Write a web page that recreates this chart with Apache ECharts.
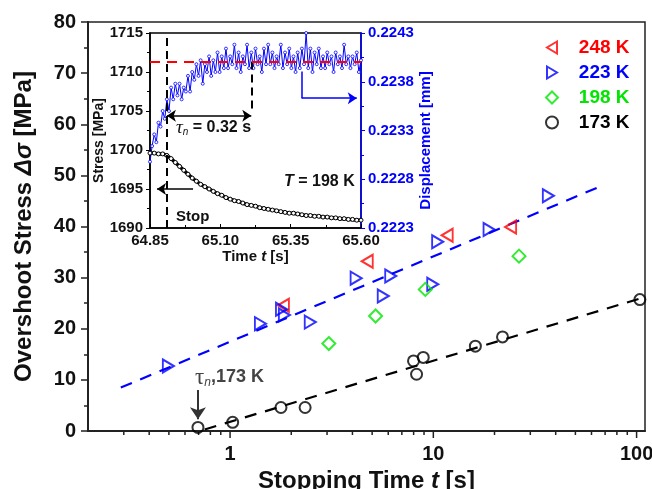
<!DOCTYPE html>
<html><head><meta charset="utf-8">
<script src="https://cdn.jsdelivr.net/npm/echarts@6/dist/echarts.min.js"></script>
<style>html,body{margin:0;padding:0;background:#fff}#c{width:652px;height:489px}</style>
</head><body><div id="c"></div>
<script>
// ---------- main chart data ----------
const t248 = [1.83, 4.73, 11.7, 24.0];
const s248 = [24.6, 33.2, 38.3, 39.9];
const t223 = [0.497, 1.41, 1.79, 1.85, 2.48, 4.17, 5.67, 6.17, 9.93, 10.5, 18.8, 36.8];
const s223 = [12.7, 21.0, 23.8, 22.7, 21.3, 29.9, 26.4, 30.3, 28.7, 37.0, 39.4, 46.0];
const t198 = [3.06, 5.2, 9.13, 26.4];
const s198 = [17.1, 22.5, 27.7, 34.2];
const t173 = [0.695, 1.03, 1.78, 2.34, 7.99, 8.27, 8.92, 16.1, 21.9, 103.8];
const s173 = [0.7, 1.7, 4.6, 4.6, 13.7, 11.1, 14.4, 16.6, 18.4, 25.7];
const fit223T = [0.29, 65];
const fit223S = [8.5, 47.7];
const fit173T = [0.75, 110];
const fit173S = [0.3, 26.2];
const xMajorTicks = [1, 10, 100];
const xMinorTicks = [0.3,0.4,0.5,0.6,0.7,0.8,0.9,2,3,4,5,6,7,8,9,20,30,40,50,60,70,80,90];
const tauMarkT = 0.695;
const tauMarkS = [8.0, 2.3];

// ---------- inset data ----------
const insetT0 = 64.85;
const dispT0 = 0.2223;
const blackT = [64.850,64.865,64.880,64.895,64.910,64.925,64.940,64.955,64.970,64.985,65.000,65.015,65.030,65.045,65.060,65.075,65.090,65.105,65.120,65.135,65.150,65.165,65.180,65.195,65.210,65.225,65.240,65.255,65.270,65.285,65.300,65.315,65.330,65.345,65.360,65.375,65.390,65.405,65.420,65.435,65.450,65.465,65.480,65.495,65.510,65.525,65.540,65.555,65.570,65.585,65.600];
const blackS = [1699.6,1699.6,1699.5,1699.5,1699.3,1698.9,1698.4,1697.9,1697.4,1696.9,1696.4,1696.0,1695.6,1695.3,1695.0,1694.7,1694.4,1694.2,1693.9,1693.7,1693.5,1693.4,1693.2,1693.0,1692.9,1692.8,1692.6,1692.5,1692.4,1692.3,1692.2,1692.1,1692.0,1691.9,1691.9,1691.8,1691.7,1691.6,1691.6,1691.5,1691.5,1691.4,1691.4,1691.3,1691.3,1691.2,1691.2,1691.1,1691.1,1691.0,1691.0];
const blueT = [64.850,64.8575,64.865,64.8725,64.880,64.8875,64.895,64.9025,64.910,64.9175,64.925,64.9325,64.940,64.9475,64.955,64.9625,64.970,64.9775,64.985,64.9925,65.000,65.0075,65.015,65.0225,65.030,65.0375,65.045,65.0525,65.060,65.0675,65.075,65.0825,65.090,65.0975,65.105,65.1125,65.120,65.1275,65.135,65.1425,65.150,65.1575,65.165,65.1725,65.180,65.1875,65.195,65.2025,65.210,65.2175,65.225,65.2325,65.240,65.2475,65.255,65.2625,65.270,65.2775,65.285,65.2925,65.300,65.3075,65.315,65.3225,65.330,65.3375,65.345,65.3525,65.360,65.3675,65.375,65.3825,65.390,65.3975,65.405,65.4125,65.420,65.4275,65.435,65.4425,65.450,65.4575,65.465,65.4725,65.480,65.4875,65.495,65.5025,65.510,65.5175,65.525,65.5325,65.540,65.5475,65.555,65.5625,65.570,65.5775,65.585,65.5925,65.600];
const blueD = [0.22298,0.22314,0.22326,0.22318,0.22338,0.22334,0.22350,0.22342,0.22362,0.22350,
0.22374,0.22362,0.22378,0.22366,0.22378,0.22362,0.22374,0.22370,0.22386,0.22370,
0.22390,0.22382,0.22398,0.22386,0.22402,0.22378,0.22398,0.22390,0.22406,0.22386,
0.22402,0.22390,0.22410,0.22390,0.22406,0.22394,0.22414,0.22394,0.22406,0.22398,
0.22418,0.22394,0.22410,0.22390,0.22406,0.22398,0.22418,0.22394,0.22410,0.22394,
0.22414,0.22398,0.22406,0.22390,0.22414,0.22398,0.22418,0.22398,0.22410,0.22394,
0.22406,0.22398,0.22418,0.22394,0.22410,0.22398,0.22414,0.22394,0.22406,0.22390,
0.22410,0.22394,0.22414,0.22398,0.22430,0.22394,0.22414,0.22390,0.22410,0.22398,
0.22414,0.22394,0.22406,0.22394,0.22410,0.22398,0.22406,0.22390,0.22410,0.22398,
0.22406,0.22394,0.22418,0.22398,0.22406,0.22394,0.22406,0.22398,0.22410,0.22390,
0.22402];
const stopT = 64.91;          // dashed "Stop" line
const tauEndT = 65.21;        // end of tau_n
const plateauS = 1711.35;     // red dashed level
const tauArrowS = 1704.4;
const stopArrowT = [65.003, 64.875];
const stopArrowS = 1695;
const blueArrowT = [65.389, 65.585];
const blueArrowS = [1710.06, 1706.64];

// ---------- helpers ----------
const FF = 'Liberation Sans, Arial, sans-serif';
const SERIF = 'Liberation Serif, DejaVu Serif, serif';
const pairs = (xs, ys) => xs.map((x, i) => [x, ys[i]]);
const LEFT_TRI = 'path://M10,0 L0,6 L10,12 Z';
const RIGHT_TRI = 'path://M0,0 L10,6 L0,12 Z';
const RED = '#ff0000', BLUE = '#0000ff', GREEN = '#00e600', BLACK = '#000000';
const it = v => v - insetT0;
const idp = d => (d - dispT0) * 1e4;

const chart = echarts.init(document.getElementById('c'));

function hollow(color) {
  return { color: 'rgba(255,255,255,0)', borderColor: color, borderWidth: 2 };
}
function seg(a, b, style, sym, size) {
  return [
    { coord: a, symbol: (sym && sym[0]) || 'none', symbolSize: size || 9 },
    { coord: b, symbol: (sym && sym[1]) || 'none', symbolSize: size || 9, lineStyle: style }
  ];
}

const option = {
  backgroundColor: '#ffffff',
  animation: false,
  textStyle: { fontFamily: FF },
  grid: [
    { left: 88, top: 22, right: 7, bottom: 58, show: true, borderColor: '#222', borderWidth: 1.5,
      containLabel: false, outerBoundsMode: 'none' },
    { left: 150, top: 33, right: 291, bottom: 261, show: true, borderColor: '#000', borderWidth: 1.5,
      backgroundColor: '#fff', containLabel: false, outerBoundsMode: 'none' }
  ],
  xAxis: [
    {
      type: 'log', gridIndex: 0, min: 0.2, max: 110, logBase: 10,
      splitLine: { show: false },
      axisLine: { lineStyle: { color: '#222', width: 2 } },
      axisTick: { show: false },
      minorTick: { show: false },
      axisLabel: {
        color: '#111', fontSize: 20, fontWeight: 'bold', fontFamily: FF, margin: 13,
        showMinLabel: false, showMaxLabel: false, hideOverlap: false,
        formatter: v => { const r = Math.round(v * 1000) / 1000; return xMajorTicks.indexOf(r) >= 0 ? String(r) : ''; }
      },
      name: 'Stopping Time {i|t} [s]', nameLocation: 'middle', nameGap: 32,
      nameTextStyle: {
        fontSize: 24, fontWeight: 'bold', color: '#111', fontFamily: FF,
        rich: { i: { fontSize: 24, fontWeight: 'bold', fontStyle: 'italic', color: '#111', fontFamily: FF } }
      }
    },
    {
      type: 'value', gridIndex: 1, min: 0, max: 0.75, interval: 0.25,
      splitLine: { show: false },
      axisLine: { lineStyle: { color: '#000', width: 1.5 } },
      axisTick: { inside: true, length: 4, lineStyle: { color: '#000' } },
      minorTick: { show: true, splitNumber: 2, length: 3, lineStyle: { color: '#000' } },
      axisLabel: { color: '#111', fontSize: 15, fontWeight: 'bold', fontFamily: FF, margin: 5,
        hideOverlap: false, formatter: v => (insetT0 + v).toFixed(2) },
      name: 'Time {i|t} [s]', nameLocation: 'middle', nameGap: 20,
      nameTextStyle: {
        fontSize: 15, fontWeight: 'bold', color: '#111', fontFamily: FF,
        rich: { i: { fontSize: 15, fontWeight: 'bold', fontStyle: 'italic', color: '#111', fontFamily: FF } }
      }
    }
  ],
  yAxis: [
    {
      type: 'value', gridIndex: 0, min: 0, max: 80, interval: 10,
      splitLine: { show: false },
      axisLine: { lineStyle: { color: '#222', width: 2 } },
      axisTick: { length: 7, lineStyle: { color: '#222', width: 1.5 } },
      minorTick: { show: true, splitNumber: 2, length: 4, lineStyle: { color: '#222', width: 1.5 } },
      axisLabel: { color: '#111', fontSize: 20, fontWeight: 'bold', fontFamily: FF, margin: 12 },
      name: 'Overshoot Stress {i|Δσ} [MPa]', nameLocation: 'middle', nameGap: 52,
      nameTextStyle: {
        fontSize: 24, fontWeight: 'bold', color: '#111', fontFamily: FF,
        rich: { i: { fontSize: 24, fontStyle: 'italic', color: '#111', fontFamily: FF } }
      }
    },
    {
      type: 'value', gridIndex: 1, min: 1690, max: 1715, interval: 5, position: 'left',
      splitLine: { show: false },
      axisLine: { lineStyle: { color: '#000', width: 1.5 } },
      axisTick: { length: 4, lineStyle: { color: '#000' } },
      minorTick: { show: true, splitNumber: 2, length: 3, lineStyle: { color: '#000' } },
      axisLabel: { color: '#111', fontSize: 15, fontWeight: 'bold', fontFamily: FF, margin: 7,
        formatter: v => String(v) },
      name: 'Stress [MPa]', nameLocation: 'middle', nameGap: 42,
      nameTextStyle: { fontSize: 14, fontWeight: 'bold', color: '#111', fontFamily: FF, padding: [0, 20, 0, 0] }
    },
    {
      type: 'value', gridIndex: 1, min: 0, max: 20, interval: 5, position: 'right',
      splitLine: { show: false },
      axisLine: { lineStyle: { color: BLUE, width: 1.5 } },
      axisTick: { length: 4, lineStyle: { color: BLUE } },
      minorTick: { show: true, splitNumber: 2, length: 3, lineStyle: { color: BLUE } },
      axisLabel: { color: BLUE, fontSize: 15, fontWeight: 'bold', fontFamily: FF, margin: 7,
        formatter: v => (dispT0 + v / 1e4).toFixed(4) },
      name: 'Displacement [mm]', nameLocation: 'middle', nameGap: 57,
      nameTextStyle: { fontSize: 15, fontWeight: 'bold', color: BLUE, fontFamily: FF, padding: [0, 20, 0, 0] }
    }
  ],
  legend: {
    orient: 'vertical', left: 540, top: 33, itemWidth: 12, itemHeight: 12, itemGap: 6,
    textStyle: { fontSize: 19, fontWeight: 'bold', fontFamily: FF },
    formatter: n => '   ' + n,
    data: [
      { name: '248 K', textStyle: { color: RED } },
      { name: '223 K', textStyle: { color: BLUE } },
      { name: '198 K', textStyle: { color: GREEN } },
      { name: '173 K', textStyle: { color: BLACK } }
    ]
  },
  graphic: [
    { type: 'text', left: 195, top: 366, z: 100,
      style: { text: '{a|τ}{b|n}{c|,173 K}', fill: '#444',
        rich: {
          a: { fontFamily: SERIF, fontSize: 23, fill: '#444' },
          b: { fontFamily: FF, fontStyle: 'italic', fontSize: 12, fill: '#444', padding: [10, 0, 0, 0] },
          c: { fontFamily: FF, fontWeight: 'bold', fontSize: 18, fill: '#444' }
        } } },
    { type: 'text', left: 176, top: 118, z: 100,
      style: { text: '{a|τ}{b|n}{c| = 0.32 s}', fill: '#111',
        rich: {
          a: { fontFamily: SERIF, fontStyle: 'italic', fontSize: 19, fill: '#111' },
          b: { fontFamily: FF, fontStyle: 'italic', fontSize: 10, fill: '#111', padding: [10, 0, 0, 0] },
          c: { fontFamily: FF, fontWeight: 'bold', fontSize: 16, fill: '#111' }
        } } },
    { type: 'text', left: 176, top: 209, z: 100,
      style: { text: 'Stop', fill: '#111', font: 'bold 15px ' + FF } },
    { type: 'text', left: 284, top: 174, z: 100,
      style: { text: '{a|T}{c| = 198 K}', fill: '#111',
        rich: {
          a: { fontFamily: FF, fontStyle: 'italic', fontWeight: 'bold', fontSize: 16, fill: '#111' },
          c: { fontFamily: FF, fontWeight: 'bold', fontSize: 16, fill: '#111' }
        } } }
  ],
  series: [
    { type: 'custom', name: 'xticks', xAxisIndex: 0, yAxisIndex: 0, clip: false, silent: true, z: 5,
      data: xMajorTicks.map(v => [v, 1]).concat(xMinorTicks.map(v => [v, 0])),
      renderItem: (params, api) => {
        const p = api.coord([api.value(0), 0]);
        const len = api.value(1) ? 7 : 4;
        return { type: 'line', shape: { x1: p[0], y1: p[1], x2: p[0], y2: p[1] + len },
          style: { stroke: '#222', lineWidth: 1.5 } };
      } },
    { type: 'line', name: 'fit223', xAxisIndex: 0, yAxisIndex: 0, data: pairs(fit223T, fit223S),
      symbol: 'none', silent: true, lineStyle: { color: BLUE, width: 2.2, type: [12, 9] } },
    { type: 'line', name: 'fit173', xAxisIndex: 0, yAxisIndex: 0, data: pairs(fit173T, fit173S),
      symbol: 'none', silent: true, lineStyle: { color: BLACK, width: 2.2, type: [12, 9] } },
    { type: 'scatter', name: '248 K', xAxisIndex: 0, yAxisIndex: 0, data: pairs(t248, s248),
      symbol: LEFT_TRI, symbolSize: [11, 13], itemStyle: hollow(RED), z: 10 },
    { type: 'scatter', name: '223 K', xAxisIndex: 0, yAxisIndex: 0, data: pairs(t223, s223),
      symbol: RIGHT_TRI, symbolSize: [11, 13], itemStyle: hollow(BLUE), z: 10 },
    { type: 'scatter', name: '198 K', xAxisIndex: 0, yAxisIndex: 0, data: pairs(t198, s198),
      symbol: 'diamond', symbolSize: 13, itemStyle: hollow(GREEN), z: 10 },
    { type: 'scatter', name: '173 K', xAxisIndex: 0, yAxisIndex: 0, data: pairs(t173, s173),
      symbol: 'circle', symbolSize: 11, itemStyle: hollow(BLACK), z: 10,
      markLine: { silent: true, label: { show: false }, animation: false,
        data: [ seg([tauMarkT, tauMarkS[0]], [tauMarkT, tauMarkS[1]], { color: '#333', width: 2, type: 'solid' }, ['none', 'arrow'], 12) ] } },
    // inset
    { type: 'line', name: 'disp', xAxisIndex: 1, yAxisIndex: 2,
      data: blueT.map((t, i) => [it(t), idp(blueD[i])]),
      symbol: 'circle', symbolSize: 3, showSymbol: true,
      itemStyle: { color: '#fff', borderColor: BLUE, borderWidth: 0.8 },
      lineStyle: { color: BLUE, width: 1 }, z: 3 },
    { type: 'line', name: 'stress', xAxisIndex: 1, yAxisIndex: 1,
      data: blackT.map((t, i) => [it(t), blackS[i]]),
      symbol: 'circle', symbolSize: 4, showSymbol: true,
      itemStyle: { color: '#fff', borderColor: BLACK, borderWidth: 1 },
      lineStyle: { color: BLACK, width: 3.5 }, z: 4,
      markLine: { silent: true, label: { show: false }, animation: false,
        data: [
          seg([it(stopT), 1690], [it(stopT), 1715], { color: '#000', width: 2, type: [8, 5] }),
          seg([it(tauEndT), plateauS], [it(tauEndT), 1705], { color: '#000', width: 2, type: [8, 5] }),
          seg([it(insetT0), plateauS], [it(65.60), plateauS], { color: RED, width: 2, type: [10, 7] }),
          seg([it(stopT), tauArrowS], [it(tauEndT), tauArrowS], { color: '#000', width: 1.5, type: 'solid' }, ['arrow', 'arrow']),
          seg([it(stopArrowT[0]), stopArrowS], [it(stopArrowT[1]), stopArrowS], { color: '#000', width: 1.5, type: 'solid' }, ['none', 'arrow']),
          seg([it(blueArrowT[0]), blueArrowS[0]], [it(blueArrowT[0]), blueArrowS[1]], { color: BLUE, width: 1.5, type: 'solid' }),
          seg([it(blueArrowT[0]), blueArrowS[1]], [it(blueArrowT[1]), blueArrowS[1]], { color: BLUE, width: 1.5, type: 'solid' }, ['none', 'arrow'])
        ] } }
  ]
};
chart.setOption(option);
</script></body></html>
